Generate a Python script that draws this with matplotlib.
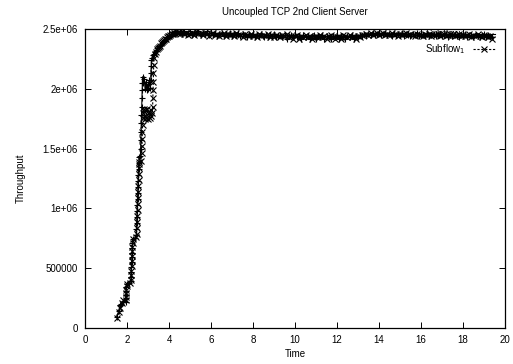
import numpy as np
import matplotlib
matplotlib.use('Agg')
import matplotlib.pyplot as plt

plt.rcParams['font.family'] = ['Liberation Sans', 'DejaVu Sans']

# Subflow 0: samples during slow start (time s, throughput x 1e4)
rise0_t = [1.50, 1.60, 1.67, 1.72, 1.80,
           1.93, 1.94, 1.95, 1.96, 1.97, 1.98, 2.10,
           2.18, 2.19, 2.20, 2.21, 2.22, 2.23, 2.24, 2.25, 2.26, 2.27, 2.40,
           2.44, 2.45, 2.46, 2.47, 2.48, 2.49, 2.50, 2.51, 2.52, 2.53, 2.54,
           2.55, 2.56, 2.57, 2.64,
           2.65, 2.66, 2.67, 2.68, 2.69, 2.70, 2.71, 2.72, 2.73, 2.74,
           2.78, 2.82, 2.86, 2.90, 2.94, 2.98, 3.02, 3.06, 3.10,
           3.13, 3.14, 3.15, 3.16, 3.20, 3.25, 3.30, 3.35, 3.40, 3.45,
           3.50, 3.55, 3.60, 3.65, 3.70, 3.75, 3.80, 3.85, 3.90, 3.95,
           4.00, 4.05, 4.10, 4.15, 4.20, 4.25, 4.30, 4.35, 4.40]
rise0_v = [9, 14, 19, 20, 22,
           22, 25, 28, 31, 34, 37, 38,
           39, 43, 47, 51, 55, 59, 63, 67, 71, 74, 75,
           78, 83, 88, 93, 98, 103, 108, 113, 118, 123, 128,
           133, 138, 143, 144,
           150, 157, 164, 171, 178, 185, 192, 199, 205, 210,
           205, 208, 200, 206, 199, 204, 200, 207, 201,
           207, 213, 219, 224, 226, 228, 229, 231, 232, 234,
           235, 236, 237, 238, 239, 240, 241, 242, 243, 243,
           244, 244, 245, 246, 246, 247, 247, 247, 248]

# Subflow 1: samples during slow start
rise1_t = [1.52, 1.62, 1.68, 1.74, 1.82,
           1.94, 1.95, 1.96, 1.97, 1.98, 1.99, 2.12,
           2.19, 2.20, 2.21, 2.22, 2.23, 2.24, 2.25, 2.26, 2.27, 2.28, 2.42,
           2.46, 2.47, 2.48, 2.49, 2.50, 2.51, 2.52, 2.53, 2.54, 2.55, 2.56,
           2.57, 2.58, 2.59, 2.66,
           2.70, 2.71, 2.72, 2.73, 2.74, 2.75, 2.76,
           2.80, 2.84, 2.88, 2.92, 2.96, 3.00, 3.04, 3.08, 3.12, 3.16, 3.20,
           3.22, 3.23, 3.24, 3.25, 3.26, 3.27, 3.28, 3.32, 3.37, 3.42, 3.47,
           3.52, 3.57, 3.62, 3.67, 3.72, 3.77, 3.82, 3.87, 3.92, 3.97,
           4.02, 4.07, 4.12, 4.17, 4.22, 4.27, 4.32, 4.37, 4.42]
rise1_v = [8, 13, 17, 21, 23,
           23, 26, 29, 32, 35, 37, 38,
           40, 44, 48, 52, 56, 60, 64, 68, 71, 74, 76,
           79, 84, 89, 94, 99, 104, 109, 114, 119, 124, 129,
           134, 137, 139, 140,
           146, 152, 158, 164, 170, 176, 180,
           183, 175, 182, 176, 183, 175, 181, 176, 182, 177, 180,
           185, 192, 199, 206, 213, 220, 226, 229, 231, 233, 234,
           235, 236, 238, 239, 240, 241, 242, 242, 243, 244,
           244, 245, 246, 246, 247, 247, 248, 247, 247]

# steady state, one sample every 0.1 s from 4.5 s to 19.4 s
steady_t = [4.5, 4.6, 4.7, 4.8, 4.9,
            5.0, 5.1, 5.2, 5.3, 5.4, 5.5, 5.6, 5.7, 5.8, 5.9,
            6.0, 6.1, 6.2, 6.3, 6.4, 6.5, 6.6, 6.7, 6.8, 6.9,
            7.0, 7.1, 7.2, 7.3, 7.4, 7.5, 7.6, 7.7, 7.8, 7.9,
            8.0, 8.1, 8.2, 8.3, 8.4, 8.5, 8.6, 8.7, 8.8, 8.9,
            9.0, 9.1, 9.2, 9.3, 9.4, 9.5, 9.6, 9.7, 9.8, 9.9,
            10.0, 10.1, 10.2, 10.3, 10.4, 10.5, 10.6, 10.7, 10.8, 10.9,
            11.0, 11.1, 11.2, 11.3, 11.4, 11.5, 11.6, 11.7, 11.8, 11.9,
            12.0, 12.1, 12.2, 12.3, 12.4, 12.5, 12.6, 12.7, 12.8, 12.9,
            13.0, 13.1, 13.2, 13.3, 13.4, 13.5, 13.6, 13.7, 13.8, 13.9,
            14.0, 14.1, 14.2, 14.3, 14.4, 14.5, 14.6, 14.7, 14.8, 14.9,
            15.0, 15.1, 15.2, 15.3, 15.4, 15.5, 15.6, 15.7, 15.8, 15.9,
            16.0, 16.1, 16.2, 16.3, 16.4, 16.5, 16.6, 16.7, 16.8, 16.9,
            17.0, 17.1, 17.2, 17.3, 17.4, 17.5, 17.6, 17.7, 17.8, 17.9,
            18.0, 18.1, 18.2, 18.3, 18.4, 18.5, 18.6, 18.7, 18.8, 18.9,
            19.0, 19.1, 19.2, 19.3, 19.4]

steady0_v = [248, 246, 248, 246, 247,
             248, 245, 247, 246, 248, 245, 247, 246, 248, 245,
             247, 245, 247, 244, 246, 247, 244, 246, 245, 247,
             244, 246, 245, 247, 244, 246, 245, 243, 246, 244,
             246, 243, 245, 244, 246, 243, 245, 243, 245, 244,
             246, 243, 244, 245, 243, 245, 242, 244, 245, 243,
             245, 243, 244, 242, 245, 243, 244, 242, 244, 245,
             242, 244, 243, 245, 242, 244, 243, 242, 244, 243,
             245, 242, 244, 243, 242, 244, 243, 245, 242, 244,
             243, 245, 244, 246, 244, 246, 245, 247, 245, 246,
             247, 245, 246, 247, 245, 246, 244, 247, 245, 246,
             245, 247, 244, 246, 245, 244, 246, 245, 247, 244,
             246, 245, 244, 246, 244, 245, 246, 244, 245, 246,
             244, 245, 246, 243, 245, 244, 246, 244, 243, 245,
             244, 246, 243, 245, 244, 243, 245, 244, 243, 245,
             244, 243, 245, 244, 243]

steady1_v = [246, 248, 246, 247, 245,
             246, 247, 245, 248, 246, 247, 245, 247, 246, 244,
             246, 247, 245, 246, 244, 245, 247, 244, 246, 245,
             246, 244, 247, 245, 245, 243, 246, 245, 244, 246,
             244, 245, 243, 246, 244, 245, 244, 246, 243, 245,
             243, 245, 244, 243, 245, 244, 246, 243, 244, 242,
             244, 245, 242, 244, 243, 245, 243, 244, 242, 243,
             244, 243, 245, 243, 244, 242, 244, 245, 243, 242,
             243, 244, 242, 245, 244, 243, 245, 243, 244, 242,
             244, 243, 245, 245, 246, 245, 247, 245, 246, 247,
             245, 246, 247, 245, 246, 245, 247, 245, 246, 244,
             246, 245, 246, 247, 245, 246, 245, 244, 246, 245,
             245, 244, 246, 245, 246, 244, 245, 245, 246, 244,
             245, 246, 244, 245, 246, 245, 244, 245, 246, 244,
             245, 244, 245, 246, 243, 245, 244, 246, 244, 243,
             245, 244, 243, 244, 242]

scale = 1e4

fig = plt.figure(figsize=(5.13, 3.64), dpi=100)
ax = fig.add_axes([0.1657, 0.0989, 0.8187, 0.8214])

t0 = rise0_t + steady_t
v0 = np.array(rise0_v + steady0_v) * scale
t1 = rise1_t + steady_t
v1 = np.array(rise1_v + steady1_v) * scale

ax.plot(t0, v0, color='black', lw=0.8,
        marker='+', ms=5, mew=0.8, label='Subflow$_0$')
ax.plot(t1, v1, color='black', lw=0.8, ls='--', dashes=(2, 1.5),
        marker='x', ms=4, mew=0.8, label='Subflow$_1$')

ax.set_xlim(0, 20)
ax.set_ylim(0, 2.5e6)
ax.set_xticks(range(0, 21, 2))
ax.set_yticks([0, 5e5, 1e6, 1.5e6, 2e6, 2.5e6])
ax.set_yticklabels(['0', '500000', '1e+06', '1.5e+06', '2e+06', '2.5e+06'])
ax.tick_params(direction='in', length=4, width=0.7, labelsize=7,
               top=True, right=True, pad=5)
for s in ax.spines.values():
    s.set_linewidth(0.9)

ax.set_title('Uncoupled TCP 2nd Client Server', fontsize=7, pad=10)
ax.set_xlabel('Time', fontsize=7, labelpad=3)
ax.set_ylabel('Throughput', fontsize=7, labelpad=12)

ax.legend(loc='upper right', frameon=False, fontsize=7, markerfirst=False,
          handlelength=2.2, handletextpad=0.8, labelspacing=0.2,
          borderaxespad=0, bbox_to_anchor=(0.985, 1.02))

fig.savefig('out.png', dpi=100)
